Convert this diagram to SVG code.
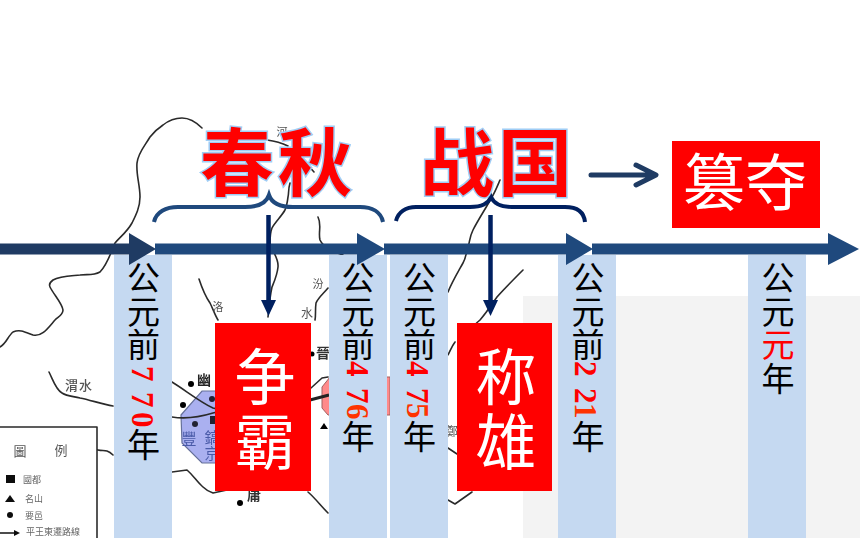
<svg xmlns="http://www.w3.org/2000/svg" width="860" height="538" viewBox="0 0 860 538">
<style>
text{font-family:"Noto Sans CJK SC","Noto Sans",sans-serif}
.m{fill:none;stroke:#2a2a2a;stroke-width:1.6;stroke-linejoin:round;stroke-linecap:round}
.ml{fill:#555;font-size:14px;text-anchor:middle}
.lg{fill:#666;font-size:9px}
.col{fill:#c5d9f1}
.v{fill:#000;font-size:33px;text-anchor:middle}
.vr{fill:#f00;font-size:33px;text-anchor:middle}
.d{font-family:"Liberation Serif",serif;font-weight:bold;font-size:31px;fill:#f00}
.o{fill:#ff3300}
.ti{fill:#f00;stroke:#9fcdf5;stroke-width:3;paint-order:stroke;font-weight:700;font-size:74px;letter-spacing:4px}
.box{fill:#f00}
.w{fill:#fff;font-size:61px;text-anchor:middle}
.ax{fill:#1f497d}
.br{fill:none;stroke-width:4;stroke-linecap:butt}
.dn{stroke:#002060;stroke-width:4.5;fill:none}
.hd{fill:#002060}
</style>
<defs><filter id="soft" x="-5%" y="-5%" width="110%" height="110%"><feGaussianBlur stdDeviation="0.45"/></filter></defs>
<rect width="860" height="538" fill="#fff"/>
<rect id="panel" x="523" y="296" width="337" height="242" fill="#f3f3f3"/>
<g id="map" filter="url(#soft)">
<path d="M181 415L202 391H240V463H202L182 443Z" fill="#aab0f0" stroke="#66709a" stroke-width="1.2"/>
<path d="M330 377L322 387V408L328 415H390V377Z" fill="#ff8a8a" stroke="#a06060" stroke-width="1"/>
<path class="m" d="M202 128C197 123 190 118 182 118C174 118 168 121 163 125C157 129 153 133 150 137C144 147 138 153 137 163C136 175 140 185 140 197C140 207 136 215 132 223C127 232 120 237 115 243C110 255 107 265 100 272C93 276 87 274 80 275C70 276 60 276 53 280C49 283 49 285 50 287C54 295 62 303 63 310C63 315 58 317 55 320C48 328 42 337 33 335C25 332 20 329 13 332C8 336 6 344 0 347"/>
<path class="m" d="M49 372C53 380 56 390 62 393C68 397 74 396 80 398C90 400 102 404 113 406"/>
<path class="m" d="M267 140C275 141 282 143 288 146M306 163L314 172M290 183C288 190 289 193 288 197C287 203 287 206 285 210C281 217 275 222 272 228C270 233 270 238 270 243C272 252 279 258 278 267C277 276 274 282 272 287C270 296 269 306 268 317"/>
<path class="m" d="M318 217C322 225 318 232 320 240C323 247 335 253 343 255M328 288C323 294 318 298 316 303C315 310 316 315 315 320M199 279C202 288 205 296 210 303C213 309 215 315 218 320"/>
<path class="m" d="M500 180C497 187 495 192 492 197C486 208 478 220 473 230C469 238 470 242 468 247C466 253 466 258 463 263C458 272 452 282 448 292"/>
<path class="m" d="M523 270C515 278 505 288 497 297C492 304 487 312 480 320L472 327M448 355C451 349 452 346 455 342M448 448L457 454M448 500L455 504L472 492"/>
<path class="m" d="M172 382C185 390 200 402 213 408C222 411 230 412 240 410M172 417C185 419 200 417 213 413L240 406M172 472L187 470C194 476 197 482 203 487C207 491 210 492 213 493L227 490M308 492C315 498 321 506 328 513M311 388L322 378L328 377"/>
<path d="M310 400L329 395" stroke="#222" stroke-width="3" fill="none"/>
<path class="m" d="M0 427H97V538M98 450C102 451 104 450 107 451C110 452 112 454 113 455"/>
<circle cx="191" cy="384" r="3"/><circle cx="183" cy="405" r="3"/><circle cx="212" cy="399" r="3" fill="#223"/><circle cx="195" cy="424" r="3" fill="#223"/><rect x="210" y="416" width="6" height="8" fill="#223"/><circle cx="240" cy="503" r="3"/><circle cx="312" cy="354" r="2.500"/>
<path d="M320 429L324 423L328 429Z"/>
<text class="ml" x="204" y="385" style="font-weight:700;fill:#222">幽</text>
<text class="ml" x="189" y="444" style="fill:#4a5aa8;font-size:15px">豐</text>
<text class="ml" x="212" y="443" style="fill:#4a5aa8;font-size:15px">鎬</text>
<text class="ml" x="212" y="459" style="fill:#4a5aa8;font-size:15px">京</text>
<text class="ml" x="323" y="358" style="font-weight:700;fill:#333">晉</text>
<text class="ml" x="254" y="500" style="font-weight:700;fill:#333">庸</text>
<text class="ml" x="318" y="288" style="font-size:11px">汾</text>
<text class="ml" x="307" y="318" style="font-size:12px">水</text>
<text class="ml" x="218" y="311" style="font-size:11px">洛</text>
<text class="ml" x="282" y="136" style="font-size:11px">河</text>
<text class="ml" x="452" y="436" style="font-size:12px">鄭</text>
<text class="ml" x="79" y="390" style="font-size:13px;font-weight:500;letter-spacing:1px">渭水</text>
<text class="ml" x="20" y="456" style="font-size:13px">圖</text>
<text class="ml" x="61" y="455" style="font-size:13px">例</text>
<rect x="6" y="475" width="9" height="8" fill="#111"/><path d="M5 502L10 495L15 502Z" fill="#111"/><circle cx="10" cy="515" r="3" fill="#111"/>
<path d="M0 533H18" stroke="#111" stroke-width="1.500"/><path d="M14 530L20 533L14 536Z" fill="#111"/>
<text class="lg" x="23" y="483">國都</text><text class="lg" x="25" y="502">名山</text><text class="lg" x="25" y="519">要邑</text><text class="lg" x="26" y="535">平王東遷路線</text>
</g>
<g id="col-770"><rect class="col" x="114" y="255" width="58" height="283"/>
<text class="v" x="143.500" y="290">公</text><text class="v" x="143.500" y="323.500">元</text><text class="v" x="143.500" y="357">前</text>
<text class="d" transform="translate(132 366) rotate(90)">7</text><text class="d" transform="translate(132 392) rotate(90)">7</text><text class="d" transform="translate(132 412) rotate(90)">0</text>
<text class="v" x="143.500" y="457">年</text></g>
<g id="col-476"><rect class="col" x="329" y="255" width="58" height="283"/>
<text class="v" x="358" y="290">公</text><text class="v" x="358" y="323.500">元</text><text class="v" x="358" y="357">前</text>
<text class="d" transform="translate(347 361) rotate(90)">4</text><text class="d" transform="translate(347 388) rotate(90)">7</text><text class="d o" transform="translate(347 404) rotate(90)">6</text>
<text class="v" x="358" y="449">年</text></g>
<g id="col-475"><rect class="col" x="390" y="255" width="58" height="283"/>
<text class="v" x="419.500" y="290">公</text><text class="v" x="419.500" y="323.500">元</text><text class="v" x="419.500" y="357">前</text>
<text class="d" transform="translate(407 361) rotate(90)">4</text><text class="d" transform="translate(407 388) rotate(90)">7</text><text class="d o" transform="translate(407 403) rotate(90)">5</text>
<text class="v" x="419.500" y="449">年</text></g>
<g id="col-221"><rect class="col" x="558" y="255" width="58" height="283"/>
<text class="v" x="588" y="290">公</text><text class="v" x="588" y="323.500">元</text><text class="v" x="588" y="357">前</text>
<text class="d" transform="translate(575 361) rotate(90)">2</text><text class="d" transform="translate(575 388) rotate(90)">2</text><text class="d o" transform="translate(575 403) rotate(90)">1</text>
<text class="v" x="588" y="449">年</text></g>
<g id="col-1"><rect class="col" x="748" y="255" width="58" height="283"/>
<text class="v" x="778" y="290">公</text><text class="v" x="778" y="323.500">元</text><text class="vr" x="778" y="357">元</text><text class="v" x="778" y="390.500">年</text></g>
<g id="connectors">
<path d="M0 243.500H129V233L156 249L129 265V254.500H0Z" fill="#1f3b63"/>
<path class="ax" d="M155 243.500H357V233L385 249L357 265V254.500H155Z"/>
<path class="ax" d="M384 243.500H566V233L593 249L566 265V254.500H384Z"/>
<path class="ax" d="M592 243.500H828V233L859 249L828 265V254.500H592Z"/>
<path class="br" stroke="#1f497d" d="M154 222C156 212 166 207 178 207H245C258 207 266 204 269 195C272 204 280 207 293 207H360C372 207 381 212 383 222"/>
<path class="br" stroke="#002060" d="M396 221C398 212 406 207 416 207H470C482 207 488 204 491 197C494 204 501 207 512 207H565C577 207 584 212 585 222"/>
<path class="dn" d="M268.500 215V302"/><path class="hd" d="M261 300H276L268.500 316Z"/>
<path class="dn" d="M490.500 215V302"/><path class="hd" d="M483 300H498L490.500 316Z"/>
<path d="M591 175H655M636 165L656 175L636 185" fill="none" stroke="#1f3b63" stroke-width="5" stroke-linecap="round" stroke-linejoin="round"/>
</g>
<g id="chunqiu"><text class="ti" x="200" y="190">春秋</text></g>
<g id="zhanguo"><text class="ti" x="420" y="190">战国</text></g>
<g id="zhengba"><rect class="box" x="215" y="323" width="96" height="168"/><text class="w" x="265" y="400">争</text><text class="w" x="265" y="465">霸</text></g>
<g id="chengxiong"><rect class="box" x="457" y="323" width="95" height="168"/><text class="w" x="506" y="400">称</text><text class="w" x="506" y="465">雄</text></g>
<g id="cuanduo"><rect class="box" x="672" y="141" width="148" height="87"/><text class="w" x="745" y="206" style="font-size:62px">篡夺</text></g>
</svg>
